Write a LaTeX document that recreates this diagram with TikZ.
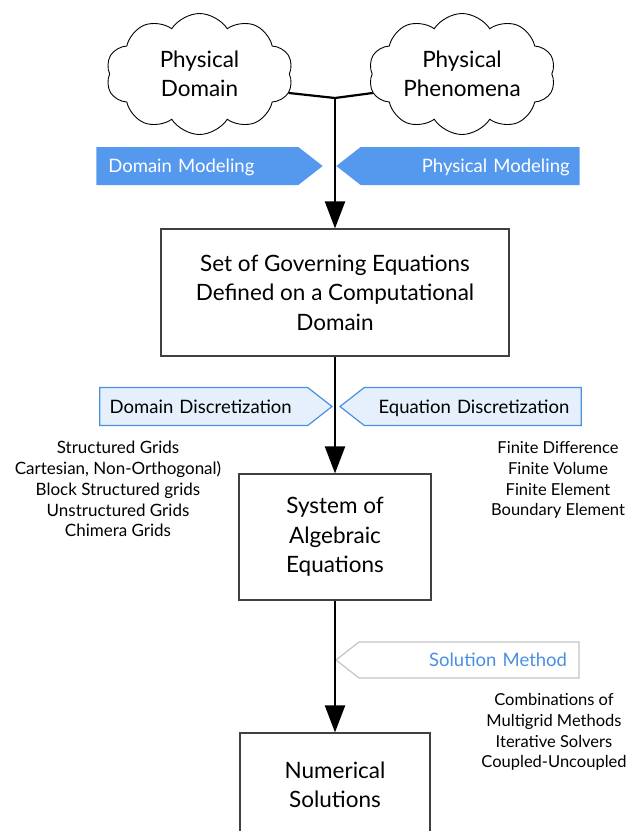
\documentclass[tikz,border=0pt]{standalone}
\usepackage{fontspec}
\setmainfont{Lato}
\usetikzlibrary{arrows.meta,shapes.symbols}
\definecolor{bannerblue}{HTML}{5599EE}
\definecolor{bannerpale}{HTML}{E6F0FC}
\definecolor{bannerline}{HTML}{4A90E2}
\definecolor{bannergrey}{HTML}{C4C4C4}
\definecolor{boxline}{HTML}{404040}

\begin{document}
\begin{tikzpicture}[
  x=1pt,
  y=-1pt,
  every node/.style={font=\fontsize{22.5}{29.5}\selectfont, text=black},
  idea/.style={cloud, cloud puffs=10, cloud puff arc=115, cloud ignores aspect,
    draw, line width=0.9pt, minimum width=187pt, minimum height=121pt,
    align=center, inner sep=0pt},
  stage/.style={draw=boxline, line width=1.2pt, align=center},
  banner/.style={signal, signal pointer angle=76, minimum height=38pt, inner ysep=0pt,
    text height=14.5pt, text depth=1.5pt, font=\fontsize{18.5}{22}\selectfont},
  solid banner/.style={banner, fill=bannerblue, text=white},
  pale banner/.style={banner, fill=bannerpale, draw=bannerline, line width=1.2pt},
  ghost banner/.style={banner, fill=white, draw=bannergrey, line width=1.2pt, text=bannerline},
  notes/.style={align=center, font=\fontsize{16.5}{20.8}\selectfont},
  link/.style={line width=2.2pt},
  flow/.style={line width=2.2pt, -{Triangle[length=27pt, width=20pt]}}
]
  % ---- page frame, the last box runs off the bottom ---------------------
  \useasboundingbox (0,0) rectangle (627,831);
  \clip (0,0) rectangle (627,831);

  % ---- the two starting clouds ------------------------------------------
  \node[idea] (physdomain) at (199.5,74) {Physical\\Domain};
  \node[idea] (physphen) at (462,74) {Physical\\Phenomena};
  \coordinate (junc) at (335,98);

  % ---- modeling banners -------------------------------------------------
  \node[solid banner, signal to=east, anchor=east, text width=178pt,
    align=left, inner xsep=12pt] (dommod) at (323,166) {Domain Modeling};
  \node[solid banner, signal to=west, anchor=west, text width=199pt,
    align=right, inner xsep=10pt] (physmod) at (336,166) {Physical Modeling};

  % ---- boxes down the middle --------------------------------------------
  \node[stage, minimum width=348pt, minimum height=127pt] (goveq) at (335,292.5)
    {Set of Governing Equations\\Defined on a Computational\\Domain};
  \node[stage, minimum width=192pt, minimum height=126pt] (algeq) at (335,537)
    {System of\\Algebraic\\Equations};
  \node[stage, minimum width=190pt, minimum height=104pt] (numsol) at (335,785)
    {Numerical\\Solutions};

  % ---- discretization banners -------------------------------------------
  \node[pale banner, signal to=east, anchor=east, text width=188pt,
    align=left, inner xsep=10pt] (domdisc) at (333,406.5) {Domain Discretization};
  \node[pale banner, signal to=west, anchor=west, text width=193pt,
    align=right, inner xsep=12pt] (eqdisc) at (339,406.5) {Equation Discretization};

  % ---- solution banner --------------------------------------------------
  \node[ghost banner, signal to=west, anchor=west, minimum height=36pt,
    text width=196pt, align=right, inner xsep=12pt] (solmeth) at (335,660)
    {Solution Method};

  % ---- side notes -------------------------------------------------------
  \node[notes, font=\fontsize{17}{20.8}\selectfont] (gridnotes) at (118,489)
    {Structured Grids\\Cartesian, Non-Orthogonal)\\
    Block Structured grids\\Unstructured Grids\\Chimera Grids};
  \node[notes] (fdmnotes) at (558,480) {Finite Difference\\Finite Volume\\
    Finite Element\\Boundary Element};
  \node[notes] (solvenotes) at (554,732) {Combinations of\\Multigrid Methods\\
    Iterative Solvers\\Coupled-Uncoupled};

  % ---- connectors -------------------------------------------------------
  \draw[link] (physdomain.-12) -- (junc) -- (physphen.192);
  \draw[flow] (junc) -- (goveq.north);
  \draw[flow] (goveq.south) -- (algeq.north);
  \draw[flow] (algeq.south) -- (numsol.north);

\end{tikzpicture}
\end{document}
